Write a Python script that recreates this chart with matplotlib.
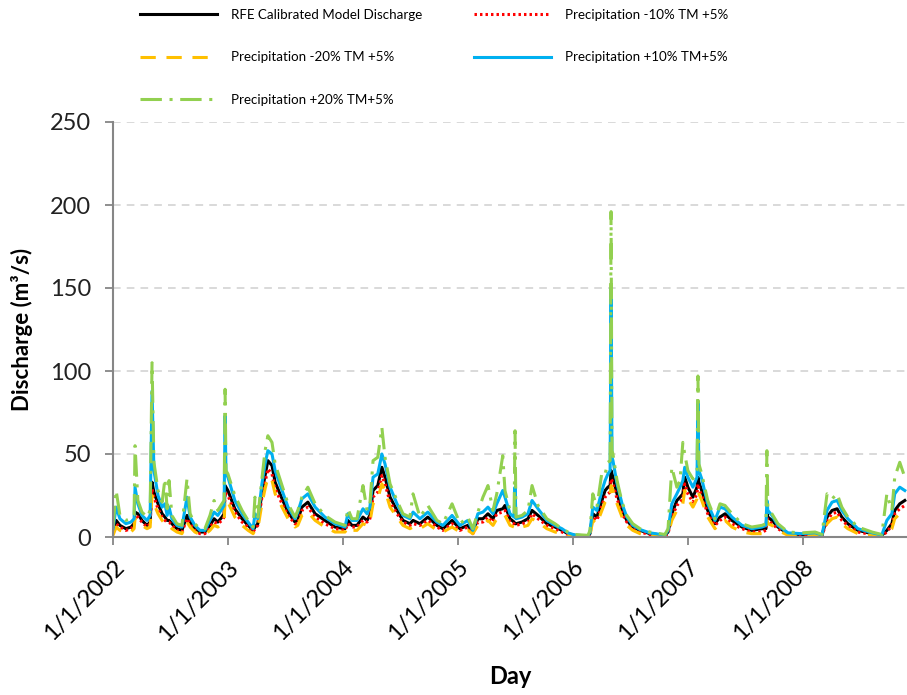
import matplotlib
matplotlib.use("Agg")
import matplotlib.pyplot as plt
import datetime as dt

plt.rcParams['font.family'] = ['Lato', 'DejaVu Sans']

# ---------------- data ----------------
start_date = dt.date(2002, 1, 1)
# days since 1/1/2002
day_offset = [0, 10, 22, 41, 57, 67, 70, 79, 92, 108, 118, 124, 130, 143, 156, 165, 172, 178, 187, 203,
              219, 235, 245, 260, 276, 292, 308, 321, 333, 346, 353, 356, 359, 365, 387, 410, 429, 445, 451, 460,
              473, 483, 492, 505, 515, 537, 556, 578, 587, 600, 619, 642, 673, 705, 737, 746, 759, 775, 794, 807,
              816, 826, 841, 854, 864, 880, 902, 921, 943, 953, 975, 1000, 1029, 1048, 1077, 1102, 1127, 1143, 1159, 1175,
              1191, 1207, 1219, 1238, 1245, 1261, 1274, 1277, 1280, 1299, 1318, 1331, 1350, 1378, 1404, 1426, 1445, 1467, 1509, 1515,
              1524, 1537, 1553, 1563, 1572, 1579, 1582, 1585, 1588, 1601, 1617, 1632, 1651, 1674, 1705, 1753, 1763, 1775, 1791, 1801,
              1810, 1816, 1826, 1842, 1855, 1858, 1861, 1870, 1889, 1912, 1928, 1944, 1966, 1998, 2029, 2061, 2074, 2077, 2080, 2093,
              2112, 2144, 2188, 2230, 2252, 2268, 2284, 2300, 2315, 2334, 2366, 2411, 2442, 2458, 2474, 2483, 2499, 2515]

rfe_calibrated = [3, 10, 7, 5, 6, 8, 15, 14, 10, 7, 9, 33, 27, 20, 14, 12, 10, 10, 8, 5,
                  4, 13, 9, 5, 3, 3, 7, 11, 9, 12, 14, 31, 30, 28, 17, 11, 7, 4, 6, 8,
                  27, 37, 46, 43, 33, 23, 15, 9, 10, 18, 21, 14, 10, 6, 5, 10, 7, 7, 12, 10,
                  13, 28, 31, 42, 36, 24, 16, 10, 8, 10, 8, 12, 7, 5, 10, 5, 7, 3, 11, 11,
                  14, 11, 16, 17, 19, 11, 9, 8, 8, 9, 11, 16, 13, 8, 6, 4, 2, 1, 0.5, 2,
                  14, 12, 22, 28, 30, 31, 40, 38, 36, 26, 16, 10, 6, 4, 2, 1, 3, 14, 22, 24,
                  26, 36, 30, 24, 30, 36, 33, 28, 16, 8, 12, 14, 10, 6, 4, 5, 5, 14, 12, 10,
                  6, 2, 1.5, 2, 1, 12, 16, 17, 12, 8, 4, 2, 1, 4, 8, 16, 20, 22]

precip_minus10 = [2, 8, 6, 4, 5, 7, 13, 12, 9, 6, 8, 29, 24, 17, 12, 10, 9, 9, 7, 4,
                  3, 11, 8, 4, 2, 2, 6, 9, 8, 10, 12, 27, 26, 25, 15, 9, 6, 3, 5, 7,
                  24, 33, 41, 38, 29, 20, 13, 8, 8, 16, 18, 12, 8, 5, 4, 8, 6, 6, 10, 9,
                  11, 24, 27, 37, 32, 21, 14, 9, 7, 8, 7, 10, 6, 4, 8, 4, 6, 2, 9, 9,
                  12, 9, 14, 15, 16, 9, 8, 7, 7, 8, 9, 14, 11, 7, 5, 3, 1.5, 0.8, 0.3, 1.5,
                  12, 10, 19, 24, 26, 27, 35, 34, 32, 23, 14, 9, 5, 3, 1.5, 0.7, 2, 12, 19, 21,
                  23, 32, 26, 21, 26, 32, 29, 25, 14, 7, 10, 12, 8, 5, 3, 3, 4, 12, 10, 8,
                  5, 1.5, 1, 1.5, 0.7, 10, 14, 15, 10, 7, 3, 1.5, 0.7, 3, 7, 14, 17, 19]

precip_minus20 = [1, 6, 4, 3, 3, 5, 11, 10, 7, 5, 6, 25, 20, 14, 10, 8, 7, 7, 5, 3,
                  2, 9, 6, 3, 1.5, 1.5, 4, 7, 6, 8, 9, 23, 22, 21, 12, 7, 4, 2, 4, 5,
                  20, 29, 36, 34, 26, 18, 11, 6, 7, 13, 15, 10, 6, 3, 3, 6, 4, 4, 8, 7,
                  9, 20, 23, 32, 28, 18, 12, 7, 5, 6, 5, 8, 4, 3, 6, 3, 4, 2, 7, 7,
                  10, 7, 11, 12, 13, 7, 6, 5, 5, 6, 7, 11, 9, 5, 3, 2, 1, 0.5, 0.2, 1,
                  10, 8, 16, 21, 23, 24, 31, 30, 28, 20, 12, 7, 4, 2, 1, 0.5, 1.5, 10, 16, 18,
                  20, 28, 23, 18, 23, 28, 26, 22, 12, 5, 8, 10, 6, 3, 2, 2, 3, 10, 8, 7,
                  4, 1, 0.8, 1, 0.5, 8, 11, 12, 8, 5, 2, 1, 0.5, 2, 5, 11, 14, 16]

precip_plus10 = [5, 18, 11, 8, 9, 11, 30, 20, 13, 10, 13, 88, 40, 25, 18, 20, 13, 18, 11, 7,
                 6, 24, 12, 7, 4, 4, 10, 15, 13, 17, 19, 73, 38, 36, 22, 14, 9, 5, 14, 11,
                 32, 44, 52, 50, 40, 28, 18, 11, 15, 23, 26, 18, 12, 8, 6, 14, 10, 10, 17, 14,
                 18, 36, 38, 50, 44, 30, 20, 13, 11, 15, 11, 15, 9, 7, 13, 7, 10, 4, 14, 15,
                 18, 14, 20, 28, 24, 14, 12, 30, 11, 12, 14, 22, 17, 10, 7, 5, 2.5, 1.2, 0.6, 3,
                 18, 16, 28, 34, 38, 40, 150, 48, 46, 32, 20, 12, 7, 4.5, 2.5, 1.2, 4, 20, 26, 30,
                 34, 42, 36, 30, 36, 82, 40, 35, 20, 10, 18, 17, 12, 7, 5, 6, 7, 22, 16, 13,
                 7, 2.5, 2, 2.5, 1.2, 16, 21, 22, 16, 11, 5, 2.5, 1.2, 10, 14, 26, 30, 28]

precip_plus20 = [6, 28, 13, 10, 11, 13, 55, 22, 15, 12, 16, 105, 45, 28, 21, 35, 17, 34, 13, 8,
                 7, 35, 14, 8, 5, 5, 13, 22, 16, 20, 22, 89, 40, 38, 25, 16, 10, 6, 24, 12,
                 35, 52, 61, 57, 44, 31, 20, 12, 16, 24, 30, 20, 13, 9, 7, 17, 11, 11, 31, 16,
                 20, 46, 48, 66, 48, 32, 22, 14, 12, 26, 12, 19, 10, 8, 20, 8, 12, 5, 15, 24,
                 31, 16, 26, 49, 28, 16, 14, 64, 12, 13, 16, 31, 19, 11, 8, 5, 3, 1.5, 1, 4,
                 26, 18, 39, 38, 45, 46, 196, 52, 50, 34, 21, 13, 8, 5, 3, 1.5, 5, 42, 30, 34,
                 57, 50, 40, 35, 40, 97, 44, 38, 22, 11, 20, 19, 14, 8, 6, 7, 8, 52, 18, 14,
                 8, 3, 2.5, 3, 1.5, 26, 23, 26, 18, 12, 6, 3, 1.5, 26, 16, 36, 45, 36]

series_labels = ["RFE Calibrated Model Discharge", "Precipitation -10% TM +5%",
                 "Precipitation -20% TM +5%", "Precipitation +10% TM+5%",
                 "Precipitation +20% TM+5%"]
tick_years = [2002, 2003, 2004, 2005, 2006, 2007, 2008]
tick_labels = ["1/1/2002", "1/1/2003", "1/1/2004", "1/1/2005", "1/1/2006", "1/1/2007", "1/1/2008"]
y_ticks = [0, 50, 100, 150, 200, 250]

# ---------------- plot ----------------
dates = [start_date + dt.timedelta(days=d) for d in day_offset]

fig = plt.figure(figsize=(9.07, 6.95), dpi=100)
ax = fig.add_axes([113/907, 1-537/695, (907-113)/907, (537-122)/695])

lw = 2.2
styles = [
    dict(color="#000000", linestyle="-"),
    dict(color="#FF0000", linestyle=(0, (0.8, 1.0))),
    dict(color="#FFC000", linestyle=(0, (5, 3.5))),
    dict(color="#00B0F0", linestyle="-"),
    dict(color="#92D050", linestyle=(0, (7, 2.5, 1, 2.5))),
]
all_series = [rfe_calibrated, precip_minus10, precip_minus20, precip_plus10, precip_plus20]
handles = []
for vals, st, lab in zip(all_series, styles, series_labels):
    h, = ax.plot(dates, vals, lw=lw, label=lab, **st)
    handles.append(h)

ax.set_ylim(0, 250)
ax.set_yticks(y_ticks)
ax.set_xlim(start_date, start_date + dt.timedelta(days=2522))
ax.set_xticks([dt.date(y, 1, 1) for y in tick_years])
ax.set_xticklabels(tick_labels, rotation=45, ha="right", rotation_mode="anchor", fontsize=17)
ax.tick_params(axis="y", labelsize=17, length=6, color="#868686", width=1.3, pad=10)
ax.tick_params(axis="x", length=6, color="#868686", width=1.3, pad=8)
for lbl in ax.get_yticklabels():
    lbl.set_color("#222222")

ax.grid(axis="y", linestyle=(0, (5, 4)), color="#D0D0D0", lw=1.1)
ax.set_axisbelow(True)
for s in ["top", "right"]:
    ax.spines[s].set_visible(False)
for s in ["left", "bottom"]:
    ax.spines[s].set_color("#868686")
    ax.spines[s].set_linewidth(1.5)

ax.set_ylabel("Discharge (m³/s)", fontsize=16, fontweight="bold", labelpad=12)
ax.set_xlabel("Day", fontsize=17, fontweight="bold", labelpad=15)

# legend filled column-wise so rows read: black, red / yellow, blue / green
order = [0, 2, 4, 1, 3]
fig.legend([handles[i] for i in order], [series_labels[i] for i in order],
           ncol=2, loc="upper left",
           bbox_to_anchor=(140/907, 1-9/695), frameon=False, fontsize=9.6,
           handlelength=5.8, handletextpad=1.0, columnspacing=3.9,
           labelspacing=2.28, borderpad=0, borderaxespad=0)

fig.savefig("out.png", dpi=100)
